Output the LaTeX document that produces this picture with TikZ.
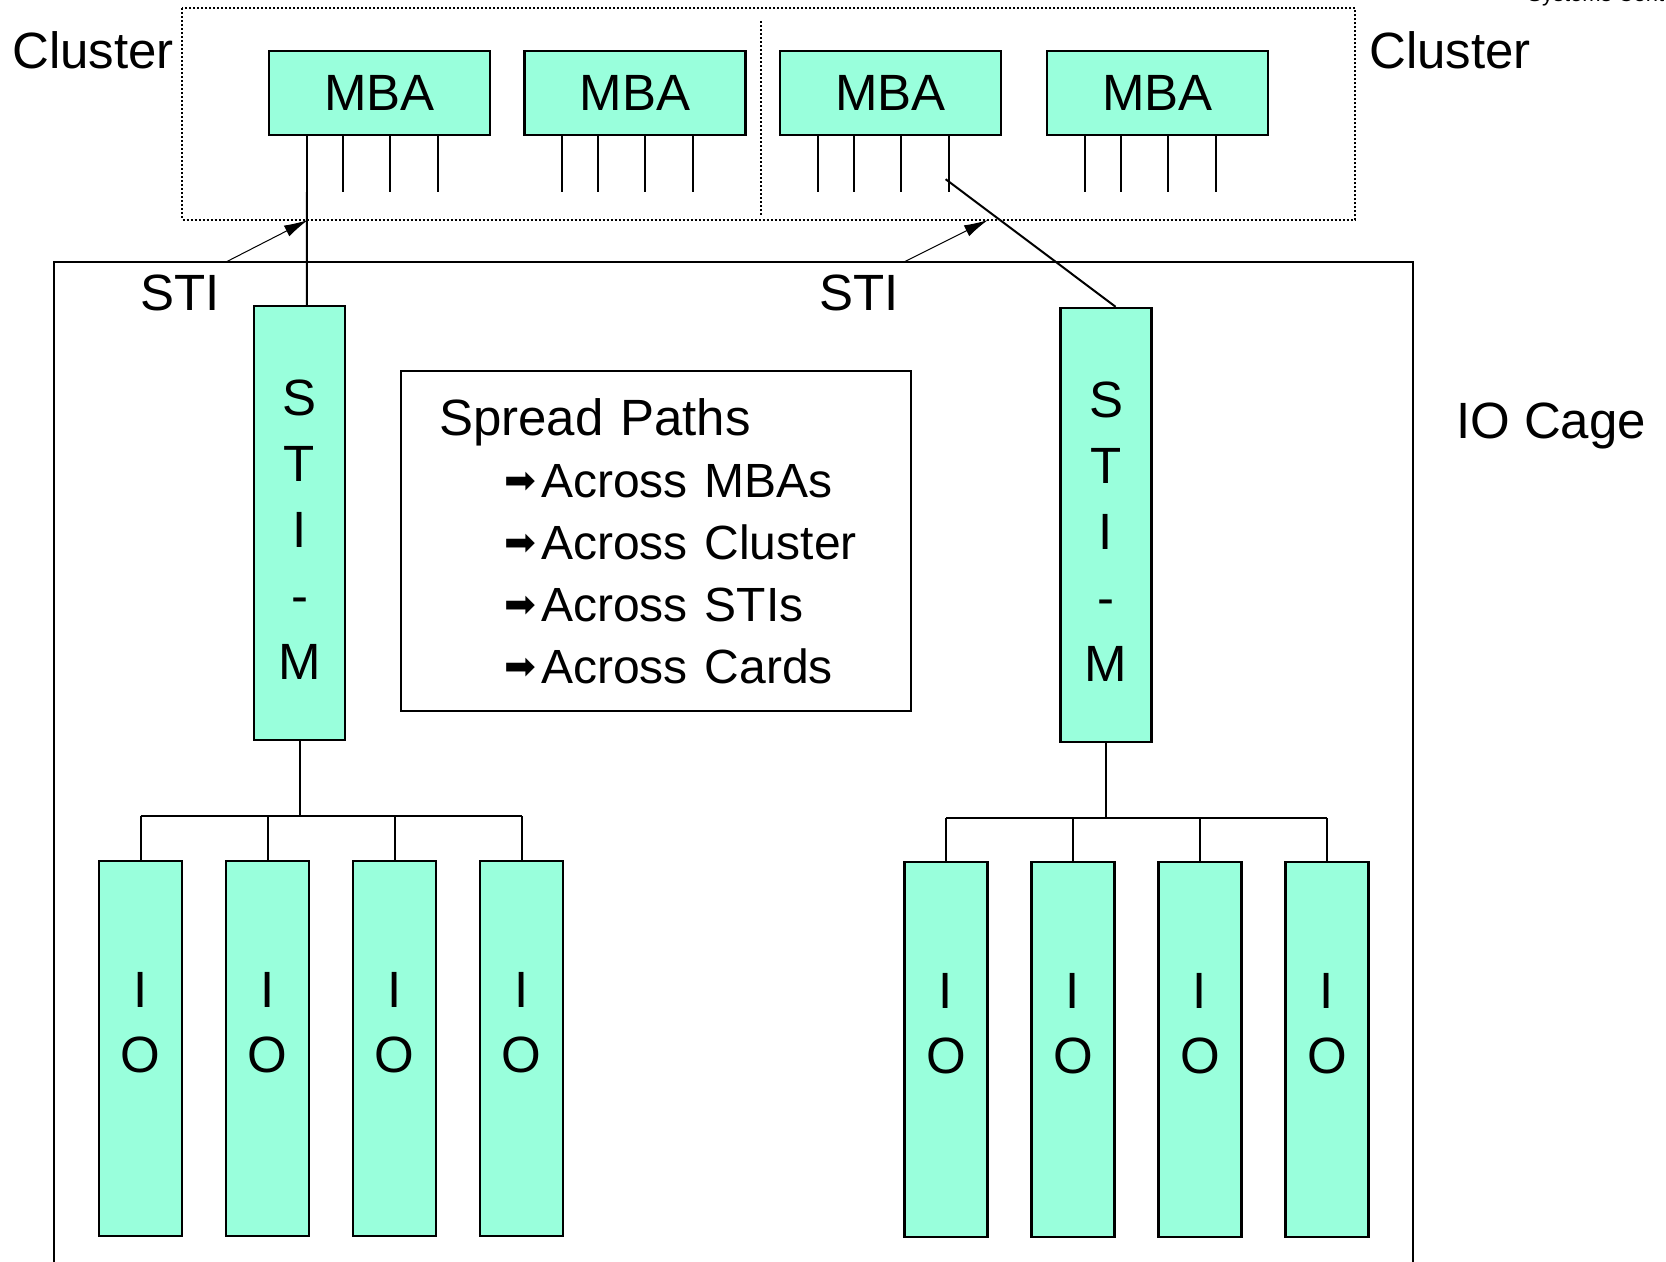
\documentclass[tikz,border=0pt]{standalone}
\usepackage{fontspec}
\setmainfont{Liberation Sans}
\newfontfamily\arrowfont{DejaVu Sans}
\usetikzlibrary{arrows.meta,positioning}
\definecolor{mint}{RGB}{153,255,220}
\def\Item{\hspace*{32.5pt}\makebox[18.5pt][l]{\raisebox{2pt}{\arrowfont\fontsize{19}{19}\selectfont ➡}}}

\begin{document}
\begin{tikzpicture}[x=0.5pt,y=-0.5pt,% one unit = one pixel of the drawing
      every node/.style={
        align=center,     % use this so that the "\\" for line break works
        inner sep=0pt,
        font=\fontsize{25.5}{31}\selectfont
      },
      card/.style={rectangle,draw=black,line width=1.2pt,fill=mint},
      mba/.style={card,minimum width=110.5pt,minimum height=42pt},
      stim/.style={card,minimum width=45.5pt,minimum height=217pt,font=\fontsize{25.5}{33}\selectfont},
      iocard/.style={card,minimum width=41.5pt,minimum height=187.5pt,font=\fontsize{25.5}{32.5}\selectfont},
      link/.style={draw,line width=1pt},
      frame/.style={draw,line width=1pt,dash pattern=on 1pt off 1pt},
      sti/.style={draw,line width=0.5pt,-{Latex[length=12pt,width=6pt]}}
    ]
    \path[use as bounding box,fill=white] (0,0) rectangle (1666,1262);
    \node[anchor=base west,font=\fontsize{11}{12}\selectfont](H)at(1527,2){Systems Center};
    % the two clusters
    \draw[frame] (182,8.5) rectangle (1355,220);
    \draw[frame] (761,21) -- (761,216);
    \node[anchor=base](C1)at(93,69){Cluster};
    \node[anchor=base](C2)at(1450,69){Cluster};
    \node[mba](M1)at(379.5,93){MBA};
    \node[mba](M2)[right=16pt of M1]{MBA};
    \node[mba](M3)[right=16pt of M2]{MBA};
    \node[mba](M4)[right=22pt of M3]{MBA};
    \foreach \m in {1,...,4}
      \foreach \o [count=\k] in {39,75,122,170}
        \draw[link] ([xshift=\o*0.5pt]M\m.south west) -- ++(0,56) coordinate (p\m\k);
    % the IO cage
    \draw[line width=1.2pt] (54,1280) |- (1413,262) -- (1413,1280);
    \node[anchor=base](L)at(1551,439){IO Cage};
    \node[anchor=base](T1)at(180,311){STI};
    \node[anchor=base](T2)at(859,311){STI};
    \coordinate (t1) at (226,262);
    \coordinate (h1) at (308,220);
    \coordinate (t2) at (904,262);
    \coordinate (h2) at (988,220);
    \path[sti] (t1) -- (h1);
    \path[sti] (t2) -- (h2);
    \node[stim](S1)at(299.5,523){\mbox{}\\[-9pt]S\\T\\I\\-\\M};
    \node[stim](S2)at(1106,525){\mbox{}\\[-9pt]S\\T\\I\\-\\M};
    \node[rectangle,draw=black,line width=1.2pt,align=left,inner xsep=19pt,text width=217pt,minimum height=170pt](P)at(656,541){%
      Spread Paths\\
      {\fontsize{24}{31}\selectfont\Item Across MBAs}\\
      {\fontsize{24}{31}\selectfont\Item Across Cluster}\\
      {\fontsize{24}{31}\selectfont\Item Across STIs}\\
      {\fontsize{24}{31}\selectfont\Item Across Cards}};
    \path[link]
    (p11) -- (p11 |- S1.north)
    ([xshift=-1.5pt,yshift=6.5pt]p34) -- ([xshift=4.8pt]S2.north)
    ;
    % IO cards under each STI-M
    \node[iocard](I1)at(140.5,1048.5){I\\O\\[-6pt]\mbox{}};
    \node[iocard](I2)[right=20.8pt of I1]{I\\O\\[-6pt]\mbox{}};
    \node[iocard](I3)[right=20.8pt of I2]{I\\O\\[-6pt]\mbox{}};
    \node[iocard](I4)[right=20.8pt of I3]{I\\O\\[-6pt]\mbox{}};
    \node[iocard](I5)at(946,1049.5){I\\O\\[-6pt]\mbox{}};
    \node[iocard](I6)[right=20.8pt of I5]{I\\O\\[-6pt]\mbox{}};
    \node[iocard](I7)[right=20.8pt of I6]{I\\O\\[-6pt]\mbox{}};
    \node[iocard](I8)[right=20.8pt of I7]{I\\O\\[-6pt]\mbox{}};
    \draw[link] (S1.south) -- (S1.south |- 0,816) coordinate (b1);
    \draw[link] (S2.south) -- (S2.south |- 0,818) coordinate (b2);
    \draw[link] (I1.north |- b1) -- (I4.north |- b1);
    \draw[link] (I5.north |- b2) -- (I8.north |- b2);
    \foreach \i in {1,...,4}
      \draw[link] (I\i.north) -- (I\i.north |- b1);
    \foreach \i in {5,...,8}
      \draw[link] (I\i.north) -- (I\i.north |- b2);
  \end{tikzpicture}
\end{document}
